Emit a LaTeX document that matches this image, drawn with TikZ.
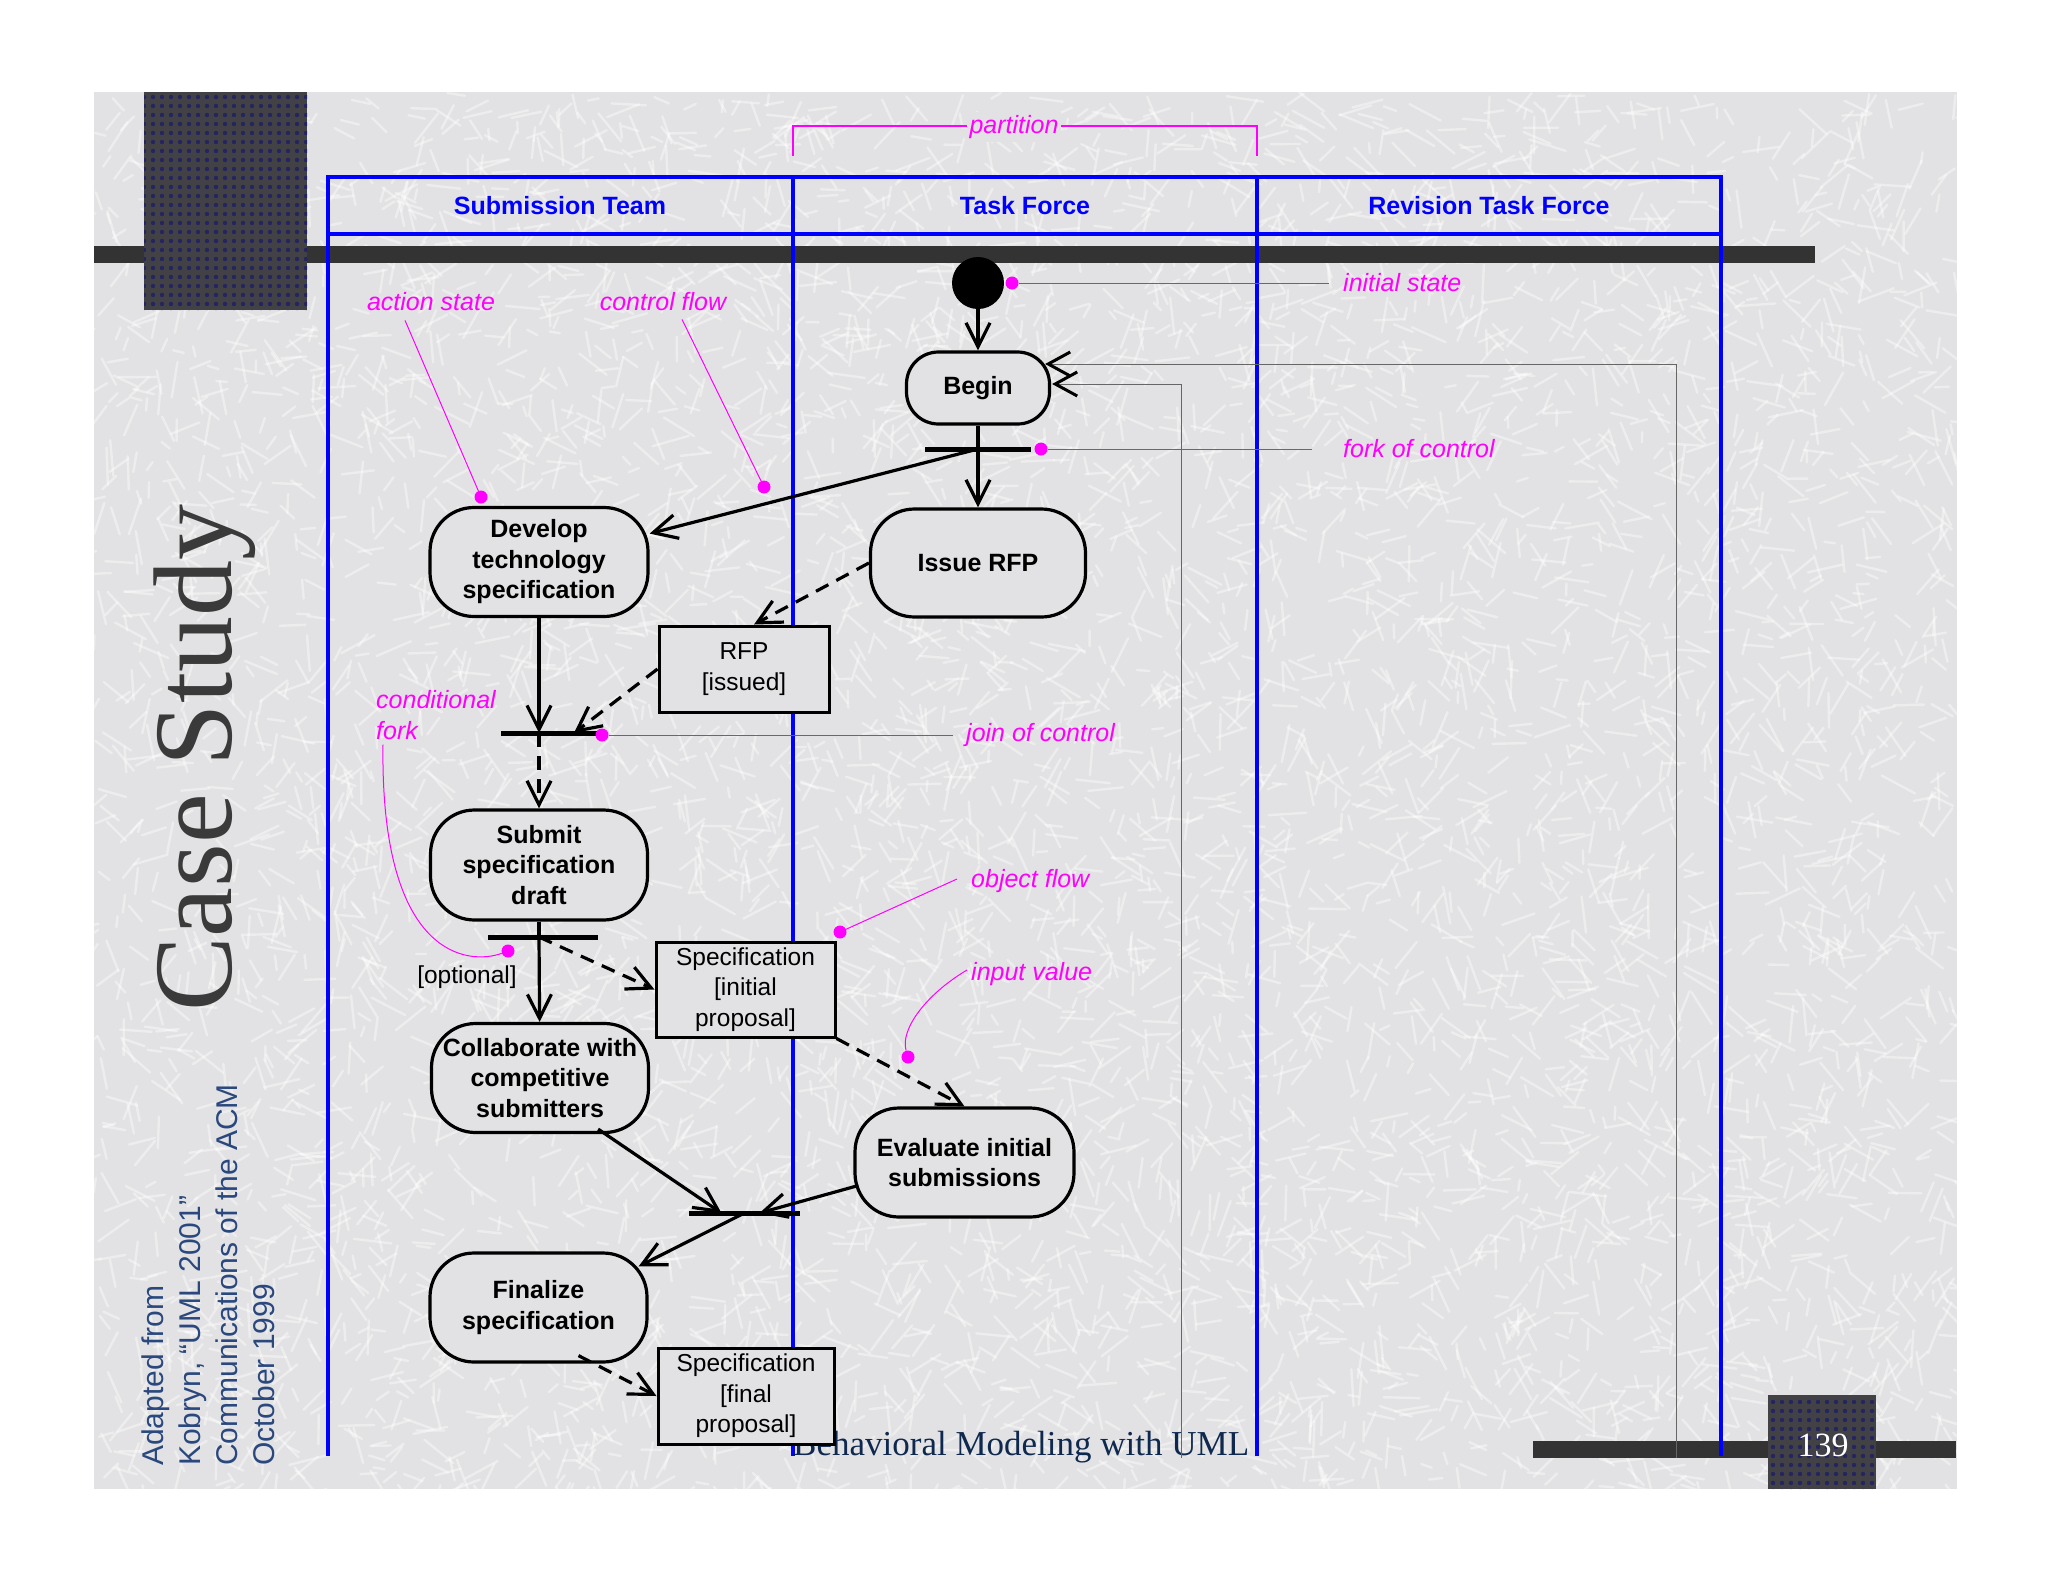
\documentclass[tikz,border=0pt]{standalone}
\usepackage{fontspec}
\setmainfont{Liberation Sans}
\newfontfamily\serifont{Liberation Serif}
\usetikzlibrary{arrows.meta,calc,patterns.meta}
\definecolor{bgc}{RGB}{226,226,228}
\definecolor{darkbar}{RGB}{51,51,51}
\definecolor{sqc}{RGB}{66,66,70}
\definecolor{dotc}{RGB}{36,36,96}
\definecolor{lane}{RGB}{0,0,255}
\definecolor{mag}{RGB}{255,0,255}
\definecolor{sidec}{RGB}{42,72,125}
\definecolor{footc}{RGB}{14,40,78}
\definecolor{casec}{RGB}{58,58,58}
\tikzset{
 action/.style={draw=black, line width=3.2pt, fill=bgc, rounded corners=44pt, inner sep=0pt, align=center, font=\bfseries\fontsize{25}{30.5}\selectfont},
 objbox/.style={draw=black, line width=3pt, fill=bgc, inner sep=0pt, align=center, font=\fontsize{24.5}{30.5}\selectfont},
 syncbar/.style={fill=black, inner sep=0pt, minimum height=5pt},
 flow/.style={line width=3.2pt, -{Straight Barb[length=24pt,width=24pt]}},
 oflow/.style={flow, dash pattern=on 14pt off 9pt},
 plainline/.style={line width=3.2pt},
 note/.style={text=mag, font=\itshape\fontsize{25}{30.5}\selectfont, inner sep=0pt},
 leader/.style={draw=mag, line width=1pt},
 mdot/.style={circle, fill=mag, minimum size=13pt, inner sep=0pt},
 swim/.style={draw=lane, line width=4pt},
 lanehead/.style={text=lane, font=\bfseries\fontsize{25}{30}\selectfont},
 backline/.style={draw=black!60, line width=1pt, -{Straight Barb[length=22pt,width=24pt,line width=3pt,color=black]}},
 sidetxt/.style={rotate=90, anchor=base west, inner sep=0pt, text=sidec, font=\fontsize{30}{36}\selectfont},
 scratch/.style={white, line width=2.4pt, opacity=0.4, line cap=round},
}
\begin{document}
\begin{tikzpicture}[x=1pt,y=-1pt]
\useasboundingbox (0,0) rectangle (2048,1582);
\fill[white] (0,0) rectangle (2048,1582);
\fill[bgc] (94,92) rectangle (1957,1489);
% background texture
\begin{scope}
\clip (94,92) rectangle (1957,1489);
\pgfmathsetseed{7}
\foreach \i in {1,...,6500}{
 \pgfmathsetmacro{\xa}{94+rnd*1863}
 \pgfmathsetmacro{\ya}{92+rnd*1397}
 \pgfmathsetmacro{\an}{rnd*180}
 \pgfmathsetmacro{\le}{10+rnd*28}
 \draw[scratch] (\xa,\ya) -- ++(\an:\le);
}
\end{scope}
% slide decoration
\fill[darkbar] (94,246) rectangle (1815,263);
\fill[darkbar] (1533,1441) rectangle (1956,1458);
\fill[sqc] (144,92) rectangle (307,310);
\path[pattern={Dots[distance=9pt,radius=2.2pt]}, pattern color=dotc] (144,92) rectangle (307,310);
\fill[sqc] (1768,1395) rectangle (1876,1489);
\path[pattern={Dots[distance=9pt,radius=2.2pt]}, pattern color=dotc] (1768,1395) rectangle (1876,1489);
\node[text=white, font=\serifont\fontsize{34}{40}\selectfont, anchor=base] (pg) at (1823,1456) {139};
% side texts
\node[rotate=90, anchor=base west, inner sep=0pt, text=casec, font=\serifont\fontsize{112}{120}\selectfont] (cs) at (231,1012) {Case Study};
\node[sidetxt] (src1) at (163,1466) {Adapted from};
\node[sidetxt] (src2) at (200,1466) {Kobryn, “UML 2001”};
\node[sidetxt] (src3) at (237,1466) {Communications of the ACM};
\node[sidetxt] (src4) at (274,1466) {October 1999};
% swimlanes
\draw[swim] (328,177) rectangle (1721,234);
\draw[swim] (328,177) -- (328,1456);
\draw[swim] (793,177) -- (793,1456);
\draw[swim] (1257,177) -- (1257,1456);
\draw[swim] (1721,177) -- (1721,1456);
\node[lanehead] (h1) at (560,206) {Submission Team};
\node[lanehead] (h2) at (1025,206) {Task Force};
\node[lanehead] (h3) at (1489,206) {Revision Task Force};
% partition bracket
\coordinate (pl) at (793,156);
\draw[mag, line width=2pt] (pl) -- ++(0,-30) -- ++(464,0) -- ++(0,30);
\node[note, fill=bgc, inner sep=3pt] (lblpart) at (1014,127) {partition};
% footer
\node[anchor=base west, inner sep=0pt, text=footc, font=\serifont\fontsize{35}{40}\selectfont] (foot) at (793,1455) {Behavioral Modeling with UML};
% nodes
\node[circle, fill=black, minimum size=52pt, inner sep=0pt] (init) at (978,283) {};
\node[action, minimum width=143pt, minimum height=72pt, rounded corners=32pt] (begin) at (978,388) {Begin};
\node[syncbar, minimum width=106pt] (fork1) at (978,449) {};
\node[action, minimum width=215pt, minimum height=108pt] (issue) at (978,563) {Issue RFP};
\node[action, minimum width=218pt, minimum height=109pt] (develop) at (539,562) {Develop\\technology\\specification};
\node[objbox, minimum width=170pt, minimum height=86pt] (rfp) at (744,669) {RFP\\{[issued]}};
\node[syncbar, minimum width=98pt] (join1) at (550,733) {};
\node[action, minimum width=217pt, minimum height=110pt] (submit) at (539,865) {Submit\\specification\\draft};
\node[syncbar, minimum width=110pt] (cfork) at (543,937) {};
\node[objbox, minimum width=179pt, minimum height=95pt] (specinit) at (745.5,989.5) {Specification\\{[initial}\\proposal]};
\node[action, minimum width=217pt, minimum height=109pt] (collab) at (540,1078) {Collaborate with\\competitive\\submitters};
\node[action, minimum width=219pt, minimum height=109pt] (evaluate) at (964.5,1162.5) {Evaluate initial\\submissions};
\node[syncbar, minimum width=111pt] (join2) at (744.5,1213) {};
\node[action, minimum width=217pt, minimum height=109pt] (finalize) at (538.5,1307.5) {Finalize\\specification};
\node[objbox, minimum width=176pt, minimum height=96pt] (specfinal) at (746,1396) {Specification\\{[final}\\proposal]};
\node[font=\fontsize{24.5}{30}\selectfont, inner sep=0pt] (optl) at (467,977) {[optional]};
% back lines to Begin
\coordinate (gb1) at (1676,1458);
\coordinate (gb2) at (1181,1458);
\draw[backline] (gb1) |- ($(begin.east)+(-6,-24)$);
\draw[backline] (gb2) |- ($(begin.east)+(1,-4)$);
% connectors
\draw[flow] (init) -- (begin);
\draw[plainline] (begin) -- (fork1.center);
\draw[flow] (fork1.center) -- (issue);
\draw[flow] (fork1.center) -- (develop);
\draw[oflow] (issue.west) -- ($(rfp.north)+(10,0)$);
\draw[oflow] (rfp.west) -- ($(join1.center)+(24,0)$);
\draw[flow] (develop) -- (develop.south |- join1.center);
\draw[oflow] (submit.north |- join1.center) -- (submit);
\draw[plainline] (submit) -- (submit.south |- cfork.center);
\draw[flow] (submit.south |- cfork.center) -- (collab);
\draw[oflow] (submit.south |- cfork.center) -- (specinit.west);
\draw[oflow] (specinit.south east) -- (evaluate.north);
\draw[flow] ($(collab.south east)+(-52,-5)$) -- ($(join2.center)+(-23,0)$);
\draw[flow] ($(evaluate.west)+(5,23)$) -- ($(join2.center)+(15,0)$);
\draw[flow] (join2.center) -- ($(finalize.north east)+(-10,15)$);
\draw[oflow] ($(finalize.south)+(40,-8)$) -- (specfinal.west);
% annotations
\node[note, anchor=west] (lblinit) at (1343,283) {initial state};
\node[note, anchor=west] (lblfork) at (1343,449) {fork of control};
\node[note] (lblaction) at (431,302) {action state};
\node[note] (lblcflow) at (663,302) {control flow};
\node[note, anchor=west] (lbljoin) at (966,735) {join of control};
\node[note, anchor=west, align=left] (lblcond) at (376,715) {conditional\\fork};
\node[note, anchor=west] (lblobj) at (971,881) {object flow};
\node[note, anchor=west] (lblinput) at (971,974) {input value};
\node[mdot] (dinit) at (1012,283) {};
\node[mdot] (dfork) at (1041,449) {};
\node[mdot] (daction) at (481,497) {};
\node[mdot] (dcflow) at (764,487) {};
\node[mdot] (djoin) at (602,735) {};
\node[mdot] (dcond) at (508,951) {};
\node[mdot] (dobj) at (840,932) {};
\node[mdot] (dinput) at (908,1057) {};
\draw[leader] (dinit) -- ($(lblinit.west)+(-14,0)$);
\draw[leader] (dfork) -- ($(lblfork.west)+(-31,0)$);
\draw[leader] (djoin) -- ($(lbljoin.west)+(-13,0)$);
\draw[leader] ($(lblaction.south)+(-26,9)$) -- (daction);
\draw[leader] ($(lblcflow.south)+(19,8)$) -- (dcflow);
\draw[leader] ($(lblcond.south west)+(7,5)$) .. controls (380,960) and (470,965) .. (dcond);
\draw[leader] (dobj) -- ($(lblobj.west)+(-14,-2)$);
\draw[leader] ($(lblinput.west)+(-4,-4)$) .. controls (925,995) and (900,1030) .. (dinput);
\end{tikzpicture}
\end{document}
